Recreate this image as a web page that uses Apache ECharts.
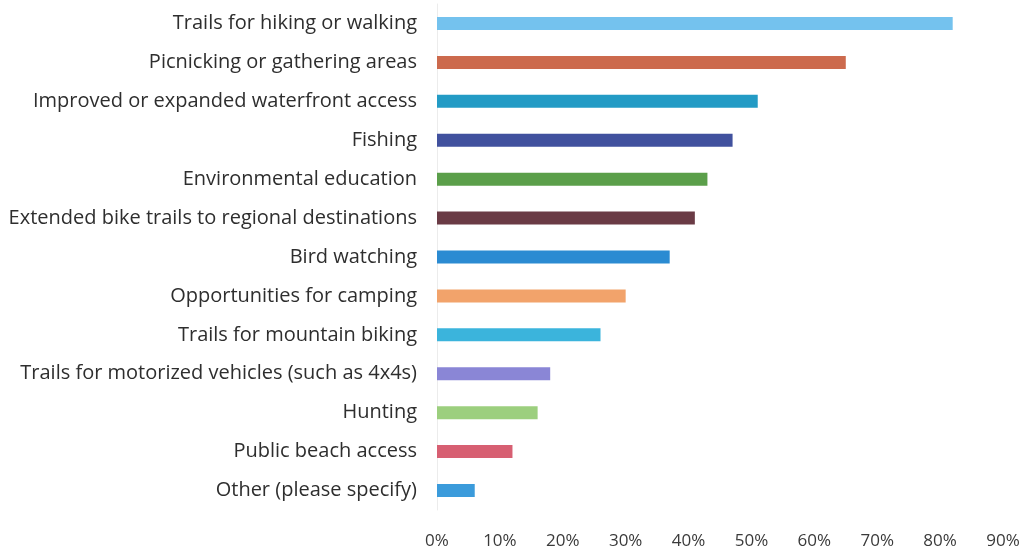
<!DOCTYPE html>
<html>
<head>
<meta charset="utf-8">
<script src="https://cdn.jsdelivr.net/npm/echarts@6/dist/echarts.min.js"></script>
<style>
  html, body { margin: 0; padding: 0; background: #ffffff; }
  #chart { width: 1025px; height: 553px; }
</style>
</head>
<body>
<div id="chart"></div>
<script>
// Survey answers, listed top to bottom
const categories = [
  'Trails for hiking or walking',
  'Picnicking or gathering areas',
  'Improved or expanded waterfront access',
  'Fishing',
  'Environmental education',
  'Extended bike trails to regional destinations',
  'Bird watching',
  'Opportunities for camping',
  'Trails for mountain biking',
  'Trails for motorized vehicles (such as 4x4s)',
  'Hunting',
  'Public beach access',
  'Other (please specify)'
];

// Share of respondents (%)
const shares = [82, 65, 51, 47, 43, 41, 37, 30, 26, 18, 16, 12, 6];

// One colour per bar
const barColors = [
  '#74c2ee', '#cc6a4d', '#239bc5', '#41519e', '#5b9f4a', '#6a3b45', '#2b8bd2',
  '#f2a36b', '#3bb4dc', '#8a86d6', '#9ccf7e', '#d75f72', '#3b9bdb'
];

// Value-axis ticks (%)
const ticks = [0, 10, 20, 30, 40, 50, 60, 70, 80, 90];

const chart = echarts.init(document.getElementById('chart'), null, { renderer: 'canvas' });

chart.setOption({
  backgroundColor: '#ffffff',
  animation: false,
  grid: { left: 437, right: 22, top: 4, bottom: 43, containLabel: false },
  xAxis: {
    type: 'value',
    min: ticks[0],
    max: ticks[ticks.length - 1],
    interval: 10,
    axisLine: { show: false },
    axisTick: { show: false },
    splitLine: { show: false },
    axisLabel: {
      formatter: v => v + '%',
      color: '#3a3a3a',
      fontFamily: 'Open Sans',
      fontSize: 17,
      margin: 23
    }
  },
  yAxis: {
    type: 'category',
    inverse: true,
    data: categories,
    axisLine: { show: true, lineStyle: { color: '#ececec', width: 1 } },
    axisTick: { show: false },
    axisLabel: {
      color: '#2e2e2e',
      fontFamily: 'Open Sans',
      fontSize: 20,
      margin: 20
    }
  },
  series: [{
    type: 'bar',
    data: shares.map((v, i) => ({ value: v, itemStyle: { color: barColors[i] } })),
    barWidth: 13,
    label: { show: false }
  }]
});
</script>
</body>
</html>
